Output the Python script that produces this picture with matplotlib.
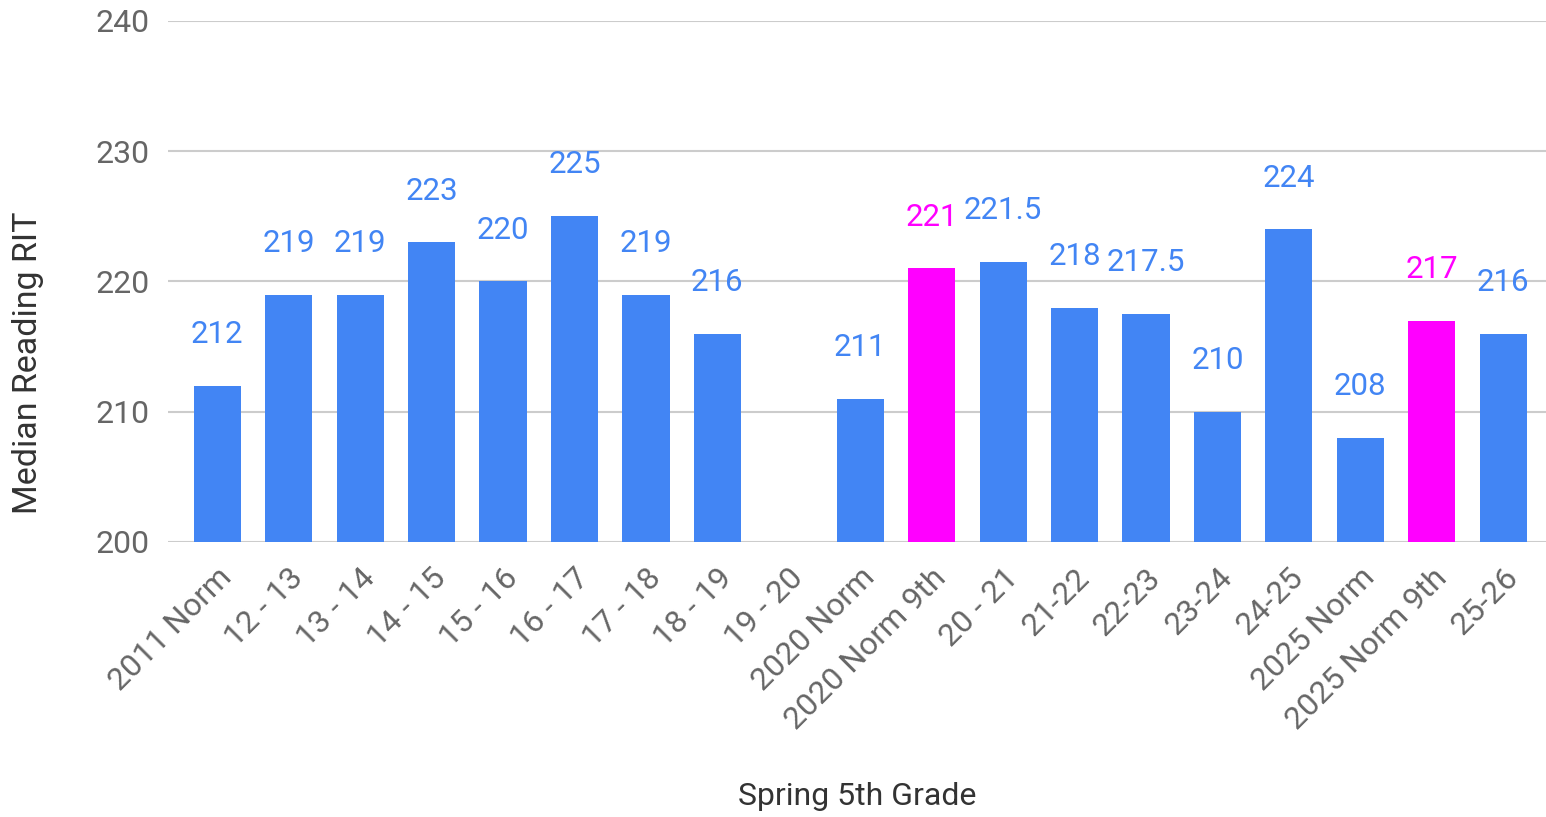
"""Spring 5th Grade median reading RIT, bar chart with value labels."""

import numpy as np
import matplotlib
matplotlib.use("Agg")
import matplotlib.pyplot as plt

categories = ["2011 Norm", "12 - 13", "13 - 14", "14 - 15", "15 - 16", "16 - 17",
              "17 - 18", "18 - 19", "19 - 20", "2020 Norm", "2020 Norm 9th",
              "20 - 21", "21-22", "22-23", "23-24", "24-25", "2025 Norm",
              "2025 Norm 9th", "25-26"]
values = [212, 219, 219, 223, 220, 225, 219, 216, np.nan, 211, 221,
          221.5, 218, 217.5, 210, 224, 208, 217, 216]
highlight = ["2020 Norm 9th", "2025 Norm 9th"]

BLUE = "#4285F4"
MAGENTA = "#FF00FF"
GRAY = "#666666"

plt.rcParams["font.family"] = ["Roboto", "DejaVu Sans"]

fig = plt.figure(figsize=(15.46, 8.17), dpi=100)
ax = fig.add_axes([0.1087, 0.3366, 0.8913, 0.6377])

x = np.arange(len(categories))
colors = [MAGENTA if c in highlight else BLUE for c in categories]
heights = [v - 200 if not np.isnan(v) else 0 for v in values]
ax.bar(x, heights, bottom=200, width=0.66, color=colors, zorder=3)

for xi, v, c in zip(x, values, colors):
    if np.isnan(v):
        continue
    ax.annotate(f"{v:g}", (xi, v), xytext=(0, 37), textcoords="offset points",
                ha="center", va="center", fontsize=22.5, color=c, zorder=4)

ax.set_ylim(200, 240)
ax.set_xlim(-0.69, 18.6)
ax.set_yticks([200, 210, 220, 230, 240])
ax.grid(axis="y", color="#cccccc", linewidth=1.5, zorder=0)
for s in ax.spines.values():
    s.set_visible(False)
ax.tick_params(axis="both", length=0, colors=GRAY, labelsize=23)
ax.tick_params(axis="y", pad=13)

ax.set_xticks(x)
ax.set_xticklabels(categories, rotation=45, ha="right", va="top",
                   rotation_mode="anchor", fontsize=23, color=GRAY)
ax.tick_params(axis="x", pad=15)

ax.set_xlabel("Spring 5th Grade", fontsize=23, color="#333333", va="center")
ax.xaxis.set_label_coords(0.5, -0.4894)
ax.set_ylabel("Median Reading RIT", fontsize=24.5, color="#333333", va="center")
ax.yaxis.set_label_coords(-0.1016, 0.345)

fig.savefig("out.png", dpi=100)
